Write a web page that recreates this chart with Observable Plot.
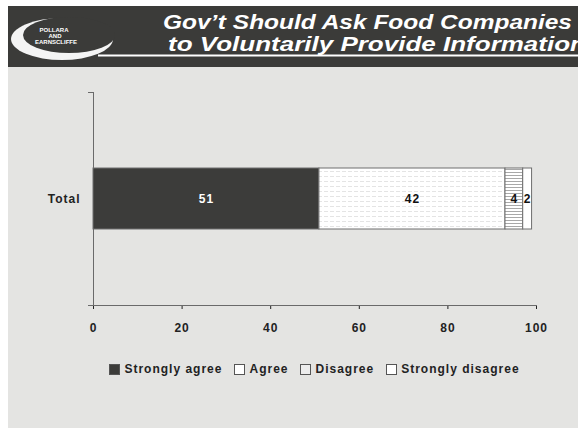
<!DOCTYPE html>
<html>
<head>
<meta charset="utf-8">
<script src="https://cdn.jsdelivr.net/npm/d3@7"></script>
<script src="https://cdn.jsdelivr.net/npm/@observablehq/plot@0.6"></script>
<style>
  body { margin: 0; background: #ffffff; }
  #page { position: relative; width: 578px; height: 428px; overflow: hidden; background: #ffffff; font-family: "Liberation Sans", Arial, sans-serif; }
  #bg { position: absolute; left: 8px; top: 67px; width: 570px; height: 361px; background: #e4e4e2; }
  #header { position: absolute; left: 0; top: 0; }
  #chart { position: absolute; left: 0; top: 69px; }
  #legend { position: absolute; left: 93px; width: 443px; top: 362px; display: flex; justify-content: center; align-items: center;
            font: bold 12px "Liberation Sans", Arial, sans-serif; letter-spacing: 1px; color: #222; }
  #legend .item { display: flex; align-items: center; margin: 0 6px; }
  #legend .sw { width: 9px; height: 9px; border: 1px solid #555; margin-right: 4px; box-sizing: content-box; }
</style>
</head>
<body>
<div id="page">
  <div id="bg"></div>
  <svg id="header" width="578" height="70" viewBox="0 0 578 70">
    <rect x="8" y="6" width="570" height="61" fill="#3b3b39"></rect>
    <ellipse cx="62" cy="39" rx="51" ry="21" fill="#f4f4f4"></ellipse>
    <ellipse cx="69" cy="35" rx="46" ry="18" fill="#3b3b39"></ellipse>
    <text x="54" y="32" fill="#fff" font-family="Liberation Sans, Arial" font-size="6" font-weight="bold" text-anchor="middle">POLLARA</text>
    <text x="55" y="38" fill="#fff" font-family="Liberation Sans, Arial" font-size="6" font-weight="bold" text-anchor="middle">AND</text>
    <text x="56" y="44" fill="#fff" font-family="Liberation Sans, Arial" font-size="6" font-weight="bold" text-anchor="middle">EARNSCLIFFE</text>
    <text id="t1" x="163" y="29" fill="#fff" font-family="Liberation Sans, Arial" font-size="21" font-weight="bold" font-style="italic" textLength="409" lengthAdjust="spacingAndGlyphs">Gov’t Should Ask Food Companies</text>
    <text id="t2" x="168" y="51" fill="#fff" font-family="Liberation Sans, Arial" font-size="21" font-weight="bold" font-style="italic" textLength="418" lengthAdjust="spacingAndGlyphs">to Voluntarily Provide Information</text>
    <rect x="98" y="54.5" width="480" height="2" fill="#fff"></rect>
  </svg>
  <div id="chart"></div>
  <div id="legend"></div>
</div>
<script>
// ---- data ----
const categories = ["Total"];
const responses = ["Strongly agree", "Agree", "Disagree", "Strongly disagree"];
const values = [51, 42, 4, 2];
const xTicks = [0, 20, 40, 60, 80, 100];

// ---- styles ----
const fills = ["#3c3c3a", "url(#patAgree)", "url(#patDisagree)", "#ffffff"];
const legendFills = ["#3c3c3a", "#ffffff", "#ececec", "#ffffff"];

const data = responses.map((r, i) => ({category: categories[0], response: r, value: values[i]}));

const W = 578, H = 271, mL = 93, mR = 42, mT = 23, mB = 35;

const chart = Plot.plot({
  width: W,
  height: H,
  marginLeft: mL,
  marginRight: mR,
  marginTop: mT,
  marginBottom: mB,
  style: {background: "transparent", fontFamily: "Liberation Sans, Arial, sans-serif", fontSize: "12px", fontWeight: "bold", color: "#222", letterSpacing: "1px"},
  x: {domain: [0, 100], ticks: xTicks, tickSize: 4, tickPadding: 14, label: null},
  y: {domain: categories, padding: 0.555, label: null, tickSize: 0, tickPadding: 13},
  color: {domain: responses, range: fills},
  marks: [
    Plot.frame({anchor: "left", stroke: "#6a6a6a"}),
    Plot.frame({anchor: "bottom", stroke: "#6a6a6a", insetLeft: -5}),
    Plot.frame({anchor: "top", stroke: "#6a6a6a", insetLeft: -5, insetRight: W - mL - mR}),
    Plot.barX(data, Plot.stackX({x: "value", y: "category", fill: "response", stroke: "#6e6e6e", strokeWidth: 1})),
    Plot.text(data, Plot.stackX({x: "value", y: "category", z: "response", text: d => d.response === responses[0] ? String(d.value) : "", fill: "#ffffff", fontSize: 12, fontWeight: "bold", letterSpacing: "0px"})),
    Plot.text(data, Plot.stackX({x: "value", y: "category", z: "response", text: d => d.response !== responses[0] ? String(d.value) : "", fill: "#111", fontSize: 12, fontWeight: "bold", letterSpacing: "0px"}))
  ]
});

// patterns
const ns = "http://www.w3.org/2000/svg";
const defs = document.createElementNS(ns, "defs");
defs.innerHTML = `
  <pattern id="patAgree" patternUnits="userSpaceOnUse" width="6" height="5">
    <rect width="6" height="5" fill="#ffffff"/>
    <line x1="0" y1="2.5" x2="4" y2="2.5" stroke="#e4e4e4" stroke-width="1"/>
  </pattern>
  <pattern id="patDisagree" patternUnits="userSpaceOnUse" width="4" height="3">
    <rect width="4" height="3" fill="#ffffff"/>
    <line x1="0" y1="1.5" x2="4" y2="1.5" stroke="#a8a8a8" stroke-width="1"/>
  </pattern>`;
chart.insertBefore(defs, chart.firstChild);
document.getElementById("chart").appendChild(chart);

// legend
const legend = document.getElementById("legend");
responses.forEach((r, i) => {
  const item = document.createElement("div");
  item.className = "item";
  const sw = document.createElement("div");
  sw.className = "sw";
  sw.style.background = legendFills[i];
  const label = document.createElement("span");
  label.textContent = r;
  item.appendChild(sw);
  item.appendChild(label);
  legend.appendChild(item);
});
</script>
</body>
</html>
